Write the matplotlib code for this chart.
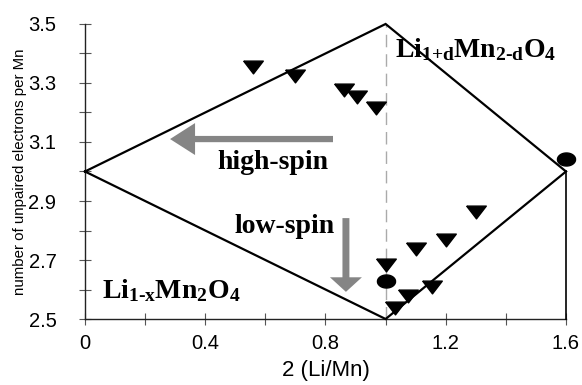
import numpy as np
import matplotlib.pyplot as plt
from matplotlib.ticker import MultipleLocator

plt.rcParams['font.family'] = 'Liberation Sans'
plt.rcParams['mathtext.fontset'] = 'custom'
plt.rcParams['mathtext.rm'] = 'Liberation Serif:bold'
plt.rcParams['mathtext.bf'] = 'Liberation Serif:bold'
plt.rcParams['mathtext.it'] = 'Liberation Serif:bold'

# triangle data (down markers)
tri_x = [0.56, 0.70, 0.86, 0.905, 0.968, 1.00, 1.03, 1.075, 1.10, 1.155, 1.20, 1.30]
tri_y = [3.355, 3.325, 3.277, 3.253, 3.215, 2.683, 2.537, 2.578, 2.737, 2.608, 2.768, 2.863]

# ellipse data
ell_x = [1.00, 1.60]
ell_y = [2.629, 3.042]

# boundary diamond
diamond_x = [0.0, 1.0, 1.6, 1.0, 0.0]
diamond_y = [3.0, 3.5, 3.0, 2.5, 3.0]

# marker shapes (flat triangle, wide ellipse)
tri_marker = [(-1.0, 0.65), (1.0, 0.65), (0.0, -0.65), (-1.0, 0.65)]
th = np.linspace(0, 2 * np.pi, 40)
ell_marker = list(zip(np.cos(th), 0.72 * np.sin(th)))

fig = plt.figure(figsize=(5.82, 3.85), dpi=100)
ax = fig.add_axes([0.146, 0.1714, 0.8265, 0.7663])

ax.plot(diamond_x, diamond_y, color='black', lw=1.6, solid_joinstyle='miter', clip_on=False, zorder=3)
ax.plot([1.6, 1.6], [3.0, 2.5], color='black', lw=1.2, clip_on=False, zorder=3)
ax.plot([1.0, 1.0], [2.5, 3.5], color='#aaaaaa', lw=1.0, ls=(0, (9, 5)), zorder=2)

ax.scatter(tri_x, tri_y, marker=tri_marker, s=200, color='black', zorder=4, clip_on=False)
ax.scatter(ell_x, ell_y, marker=ell_marker, s=170, color='black', zorder=4, clip_on=False)

# arrows
ax.annotate('', xy=(0.283, 3.110), xytext=(0.825, 3.110),
            arrowprops=dict(arrowstyle='simple,head_length=1.8,head_width=2.3,tail_width=0.45',
                            color='#858585', lw=0, shrinkA=0, shrinkB=0), zorder=3)
ax.annotate('', xy=(0.868, 2.592), xytext=(0.868, 2.842),
            arrowprops=dict(arrowstyle='simple,head_length=1.05,head_width=2.3,tail_width=0.5',
                            color='#858585', lw=0, shrinkA=0, shrinkB=0), zorder=3)

serif = 'Liberation Serif'
ax.text(0.625, 3.032, 'high-spin', fontsize=20, fontweight='bold', family=serif,
        ha='center', va='center')
ax.text(0.665, 2.815, 'low-spin', fontsize=20, fontweight='bold', family=serif,
        ha='center', va='center')
ax.text(1.03, 3.388, r'$\mathrm{Li_{\text{1+d}}Mn_{\text{2-d}}O_4}$', fontsize=20,
        ha='left', va='baseline')
ax.text(0.055, 2.571, r'$\mathrm{Li_{\text{1-x}}Mn_2O_4}$', fontsize=20,
        ha='left', va='baseline')

ax.set_xlim(0, 1.6)
ax.set_ylim(2.5, 3.5)
ax.set_xticks([0, 0.4, 0.8, 1.2, 1.6])
ax.set_xticklabels(['0', '0.4', '0.8', '1.2', '1.6'])
ax.xaxis.set_minor_locator(MultipleLocator(0.2))
ax.set_yticks([2.5, 2.7, 2.9, 3.1, 3.3, 3.5])
ax.set_yticks(np.arange(2.5, 3.51, 0.1), minor=True)
ax.tick_params(which='both', direction='inout', length=9, width=0.8, color='#555555',
               labelsize=14.5)
ax.tick_params(axis='x', pad=6)
ax.tick_params(axis='y', pad=16)
for s in ['top', 'right']:
    ax.spines[s].set_visible(False)
for s in ['left', 'bottom']:
    ax.spines[s].set_linewidth(1.0)
    ax.spines[s].set_color('#222222')

ax.set_xlabel('2 (Li/Mn)', fontsize=16, labelpad=5)
ax.set_ylabel('number of unpaired electrons per Mn', fontsize=10.8)
ax.yaxis.set_label_coords(-0.12, 0.5)

fig.savefig('out.png', dpi=100)
